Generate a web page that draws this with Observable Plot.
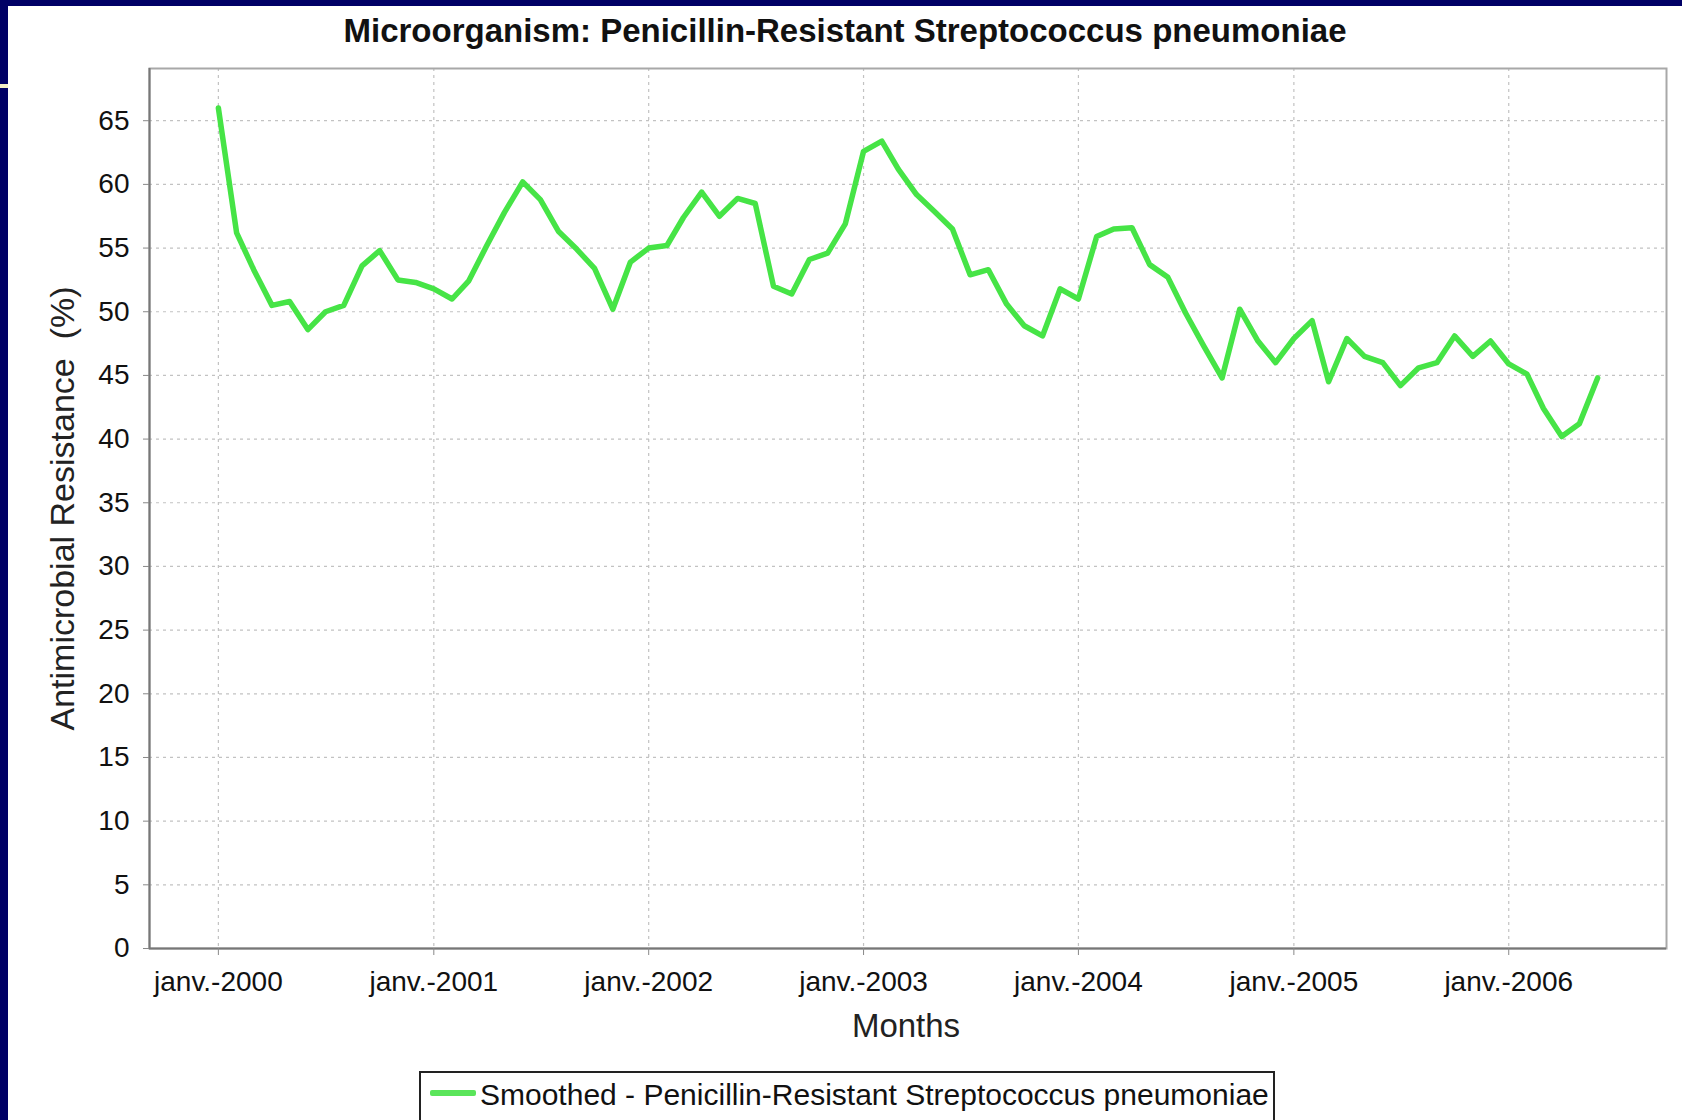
<!DOCTYPE html>
<html>
<head>
<meta charset="utf-8">
<script src="https://cdn.jsdelivr.net/npm/d3@7"></script>
<script src="https://cdn.jsdelivr.net/npm/@observablehq/plot@0.6"></script>
<style>
html, body { margin: 0; padding: 0; background: #000066; width: 1682px; height: 1120px; overflow: hidden; }
#accent { position: absolute; left: 0; top: 84px; width: 8px; height: 4px; background: #f4efc6; }
#page { position: absolute; left: 8px; top: 6px; width: 1674px; height: 1114px; background: #fff; overflow: hidden;
  font-family: "Liberation Sans", Arial, sans-serif; color: #111; }
#title { position: absolute; left: 0; top: 8px; width: 1674px; text-align: center; font-weight: bold;
  font-size: 33px; line-height: 33px; white-space: nowrap; }
#chart { position: absolute; left: 0; top: 50px; }
#legend { position: absolute; left: 411px; top: 1065px; width: 852px; height: 70px; border: 2px solid #222; }
#legend .swatch { position: absolute; left: 9px; top: 17px; width: 46px; height: 6px; background: #5ae55a; border-radius: 2px; }
#legend .label { position: absolute; left: 59px; top: 7px; font-size: 30px; line-height: 30px; white-space: nowrap; color: #111; }
</style>
</head>
<body>
<div id="accent"></div>
<div id="page">
  <div id="title"></div>
  <div id="chart"></div>
  <div id="legend"><div class="swatch"></div><div class="label"></div></div>
</div>
<script>
// ---- Data ----
const titleText = "Microorganism: Penicillin-Resistant Streptococcus pneumoniae";
const xLabel = "Months";
const yLabel = "Antimicrobial Resistance  (%)";
const seriesName = "Smoothed - Penicillin-Resistant Streptococcus pneumoniae";

// monthly values, Jan 2000 .. Jun 2006
const values = [
  66.0, 56.2, 53.3, 50.5, 50.8, 48.6, 50.0, 50.5, 53.6, 54.8, 52.5, 52.3,
  51.8, 51.0, 52.4, 55.2, 57.8, 60.2, 58.8, 56.3, 54.9, 53.4, 50.2, 53.9,
  55.0, 55.2, 57.4, 59.4, 57.5, 58.9, 58.5, 52.0, 51.4, 54.1, 54.6, 56.9,
  62.6, 63.4, 61.2, 59.2, 57.9, 56.5, 52.9, 53.3, 50.6, 48.9, 48.1, 51.8,
  51.0, 55.9, 56.5, 56.6, 53.7, 52.7, 49.9, 47.3, 44.8, 50.2, 47.7, 46.0,
  47.9, 49.3, 44.5, 47.9, 46.5, 46.0, 44.2, 45.6, 46.0, 48.1, 46.5, 47.7,
  45.9, 45.1, 42.4, 40.2, 41.2, 44.8
];
const months = d3.utcMonth.range(new Date(Date.UTC(2000, 0, 1)), new Date(Date.UTC(2006, 6, 1)));

const yearTicks = [2000, 2001, 2002, 2003, 2004, 2005, 2006];
const xTickLabels = ["janv.-2000", "janv.-2001", "janv.-2002", "janv.-2003", "janv.-2004", "janv.-2005", "janv.-2006"];
const yTicks = [0, 5, 10, 15, 20, 25, 30, 35, 40, 45, 50, 55, 60, 65];
const yTickLabels = ["0", "5", "10", "15", "20", "25", "30", "35", "40", "45", "50", "55", "60", "65"];

const xDomain = [new Date(Date.UTC(1999, 8, 6)), new Date(Date.UTC(2006, 8, 26))];
const yDomain = [0, 69.1];

// ---- Build ----
const data = months.map((d, i) => ({date: d, value: values[i]}));
const xTickDates = yearTicks.map(y => new Date(Date.UTC(y, 0, 1)));

document.getElementById("title").textContent = titleText;
document.querySelector("#legend .label").textContent = seriesName;

const chart = Plot.plot({
  width: 1674,
  height: 1004,
  marginLeft: 141,
  marginRight: 16,
  marginTop: 12,
  marginBottom: 112,
  style: {background: "transparent", fontFamily: "Liberation Sans, Arial, sans-serif", color: "#111", overflow: "visible"},
  x: {type: "utc", domain: xDomain},
  y: {domain: yDomain},
  marks: [
    Plot.ruleY(yTicks.filter(v => v > 0), {stroke: "#c2c2c2", strokeWidth: 1.2, strokeDasharray: "3,4"}),
    Plot.ruleX(xTickDates, {stroke: "#c2c2c2", strokeWidth: 1.2, strokeDasharray: "3,4"}),
    Plot.frame({stroke: "#a8a8a8", strokeWidth: 2}),
    Plot.ruleY([yDomain[0]], {stroke: "#777", strokeWidth: 2}),
    Plot.ruleX([xDomain[0]], {stroke: "#777", strokeWidth: 2}),
    Plot.axisX({ticks: xTickDates, tickFormat: d => xTickLabels[yearTicks.indexOf(d.getUTCFullYear())],
      tickSize: 7, tickPadding: 16, fontSize: 28, stroke: "#888", fill: "#111", label: null}),
    Plot.axisY({ticks: yTicks, tickFormat: d => yTickLabels[yTicks.indexOf(d)],
      tickSize: 6, tickPadding: 14, fontSize: 28, stroke: "#888", fill: "#111", label: null}),
    Plot.line(data, {x: "date", y: "value", stroke: "#46e446", strokeWidth: 5.5}),
    Plot.text([xLabel], {text: d => d, frameAnchor: "bottom", dy: 78, dx: -2, lineAnchor: "middle", textAnchor: "middle", fontSize: 33, fill: "#222"}),
    Plot.text([yLabel], {text: d => d, frameAnchor: "left", dx: -86, rotate: -90, lineAnchor: "middle", textAnchor: "middle", fontSize: 34, fill: "#222"})
  ]
});
document.getElementById("chart").appendChild(chart);
</script>
</body>
</html>
